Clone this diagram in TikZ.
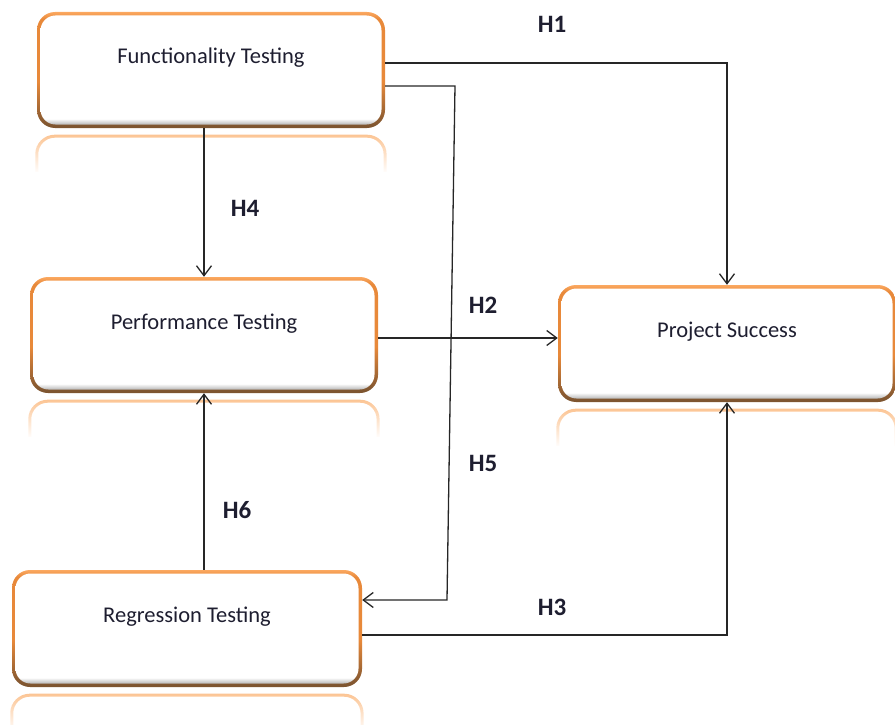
\documentclass[tikz,border=0pt]{standalone}
\usepackage{fontspec}
\setmainfont{Carlito}
\usetikzlibrary{arrows.meta,fadings}
\definecolor{blight}{HTML}{FBA860}
\definecolor{borange}{HTML}{E8893A}
\definecolor{bbrown}{HTML}{7E5530}
\definecolor{txt}{HTML}{1E1E30}
\definecolor{reflc}{HTML}{FBBE88}
\pgfdeclareverticalshading{boxborder}{100bp}{color(0bp)=(bbrown); color(26bp)=(bbrown); color(45bp)=(borange); color(72bp)=(borange); color(75bp)=(blight); color(100bp)=(blight)}
\pgfdeclareverticalshading{boxinner}{100bp}{color(0bp)=(black!45); color(25bp)=(black!45); color(29bp)=(white); color(100bp)=(white)}
\tikzfading[name=reflfade, top color=transparent!10, middle color=transparent!85, bottom color=transparent!100]
\begin{document}
\begin{tikzpicture}[x=1pt,y=-1pt,
 fbox/.style={rectangle, rounded corners=18pt, minimum width=348pt, minimum height=116pt, inner sep=0pt,
   shade, shading=boxborder, font=\fontsize{22.5}{27}\selectfont, text=txt,
   path picture={\shade[shading=boxinner, rounded corners=15pt]
     ([shift={(3.5pt,3.5pt)}]path picture bounding box.south west) rectangle
     ([shift={(-3.5pt,-3.5pt)}]path picture bounding box.north east);}},
 refl/.style={draw=reflc, line width=3pt, rounded corners=18pt, path fading=reflfade},
 conn/.style={draw=black!85, line width=1.3pt, -{Straight Barb[length=10pt,width=15pt]}},
 hlab/.style={font=\bfseries\fontsize{25}{30}\selectfont, text=txt}]
\useasboundingbox (0,0) rectangle (895,725);

\node[fbox] (ft) at (211,70) {\raisebox{6pt}[0pt][0pt]{Functionality Testing}};
\node[fbox] (pt) at (204,335) {\raisebox{6pt}[0pt][0pt]{Performance Testing}};
\node[fbox, minimum width=338pt, minimum height=117pt] (ps) at (727,343.5) {\raisebox{6pt}[0pt][0pt]{Project Success}};
\node[fbox, minimum width=350pt, minimum height=117pt] (rt) at (187,628.5) {\raisebox{6pt}[0pt][0pt]{Regression Testing}};

\foreach \n in {ft,pt,ps,rt}{
  \draw[refl] ([yshift=-44pt]\n.south west) -- ([yshift=-8pt]\n.south west) -- ([yshift=-8pt]\n.south east) -- ([yshift=-44pt]\n.south east);
}

\coordinate (h5a) at (455,86);
\coordinate (h5b) at (447,600);
\draw[conn] ([yshift=7pt]ft.east) -| (ps.north);
\draw[conn] ([yshift=-16pt]ft.east) -- (h5a) -- (h5b) -- (h5b -| rt.east);
\draw[conn] (ft.south -| pt.north) -- (pt.north);
\draw[conn] ([yshift=-3pt]pt.east) -- ([yshift=-3pt]pt.east -| ps.west);
\draw[conn] (rt.north -| pt.south) -- (pt.south);
\draw[conn] ([yshift=-6.5pt]rt.east) -| (ps.south);

\node[hlab] (l1) at (552,24) {H1};
\node[hlab] (l4) at (245,208) {H4};
\node[hlab] (l2) at (483,305) {H2};
\node[hlab] (l5) at (483,463) {H5};
\node[hlab] (l6) at (237,510) {H6};
\node[hlab] (l3) at (552,607) {H3};
\end{tikzpicture}
\end{document}
